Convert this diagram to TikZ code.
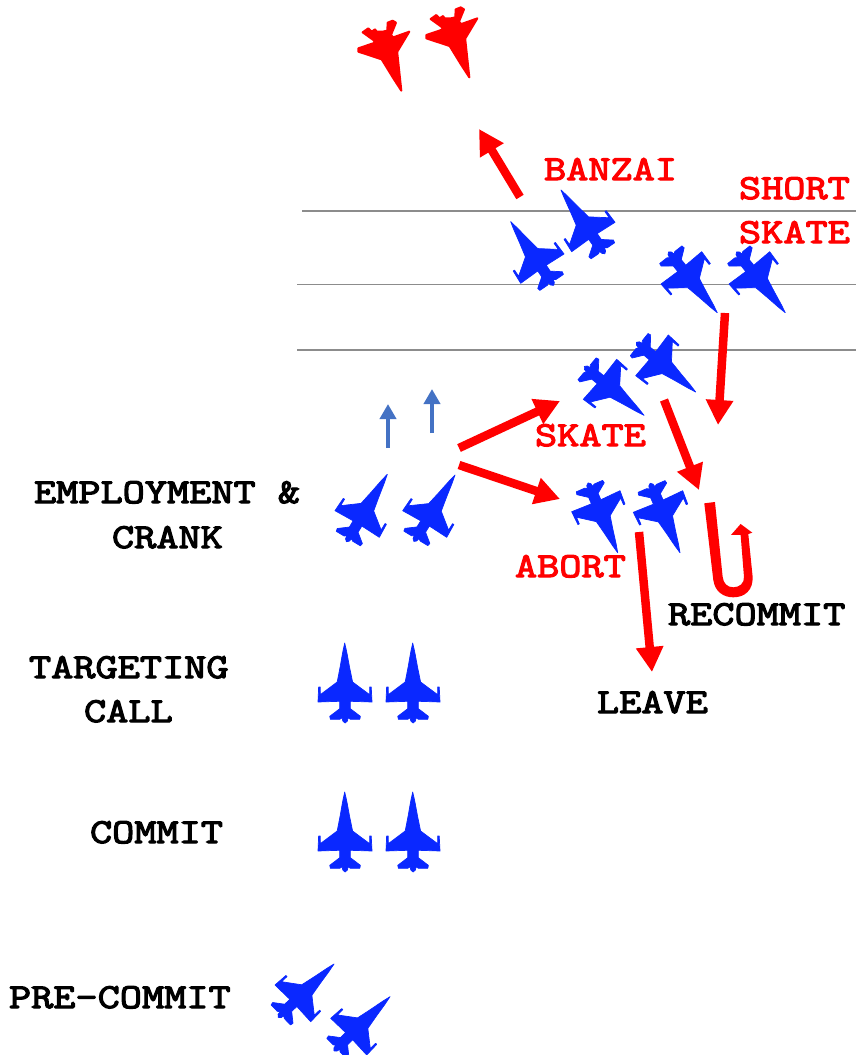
\documentclass[tikz,border=0pt]{standalone}
\usepackage{fontspec}
\newfontfamily\labfont[FakeBold=3.5,FakeStretch=1.23]{Latin Modern Mono}
\usetikzlibrary{arrows.meta}
\definecolor{jetblue}{HTML}{0A28FF}
\definecolor{steel}{HTML}{4472C4}
\definecolor{rulegray}{HTML}{8C8C8C}
\newcommand{\fjet}[6]{% nose, rear tip 1, rear tip 2 (px)
  \pgfmathsetmacro{\ux}{(#5-#3)/54}\pgfmathsetmacro{\uy}{(#6-#4)/54}%
  \pgfmathsetmacro{\vx}{((#3+#5)/2-#1)/59}\pgfmathsetmacro{\vy}{((#4+#6)/2-#2)/59}%
  \pgfmathsetmacro{\ox}{#1+40*\vx}\pgfmathsetmacro{\oy}{#2+40*\vy}%
  \filldraw[jetblue,line width=.7pt,line join=round,shift={(\ox,\oy)},x={(\ux pt,-\uy pt)},y={(\vx pt,-\vy pt)}]
  (0,-40) -- (2,-31) -- (4.7,-16) -- (7.7,-1) -- (24.7,11.7) -- (24.7,4) -- (26.3,4) -- (27,19) -- (5.3,18.3) -- (5.3,25.7) -- (15.3,33.3) -- (14.7,36.3) -- (5.3,36.3) -- (3,34.7) -- (2.3,38) -- (0,40)
  -- (-2.3,38) -- (-3,34.7) -- (-5.3,36.3) -- (-14.7,36.3) -- (-15.3,33.3) -- (-5.3,25.7) -- (-5.3,18.3) -- (-27,19) -- (-26.3,4) -- (-24.7,4) -- (-24.7,11.7) -- (-7.7,-1) -- (-4.7,-16) -- (-2,-31) -- cycle;}
\newcommand{\redjet}[2]{% shift in px
  \filldraw[red,line width=2pt,line join=round,shift={(#1,#2)},x=0.3333pt,y=-0.3333pt]
  (184,272) -- (172,160) -- (172,155) -- (208,95) -- (160,112) -- (153,105) -- (168,68) -- (158,62) -- (143,68) -- (142,92) -- (128,95) -- (110,95) -- (105,88) -- (95,95) -- (85,85) -- (68,97) -- (100,120) -- (105,128) -- (55,145) -- (55,155) -- (125,178) -- (160,235) -- cycle;}
\tikzset{
  lbl/.style={anchor=base west,inner sep=0pt,outer sep=0pt,font=\fontsize{35}{35}\selectfont\labfont},
  redlbl/.style={lbl,text=red},
  redarrow/.style={draw=red,line width=8.5pt,-{Triangle[width=26pt,length=25pt]}},
  bluearrow/.style={draw=steel,line width=4pt,-{Triangle[width=16pt,length=15pt]}},
  ruleline/.style={draw=rulegray,line width=1.2pt}
}
\begin{document}
\begin{tikzpicture}[x=1pt,y=-1pt]
\useasboundingbox (0,0) rectangle (856,1055);
% rules
\coordinate (r1a) at (302,211); \coordinate (r1b) at (856,211);
\coordinate (r2a) at (297,284.5); \coordinate (r2b) at (856,284.5);
\coordinate (r3a) at (297,350); \coordinate (r3b) at (856,350);
\draw[ruleline] (r1a) -- (r1b);
\draw[ruleline] (r2a) -- (r2b);
\draw[ruleline] (r3a) -- (r3b);
% red jets
\redjet{340}{0}
\redjet{408}{-13.3}
% blue jets
\fjet{510.7}{221.7}{520.7}{283.3}{564}{254}
\fjet{561}{190}{571.7}{251.7}{615}{222.3}
\fjet{717.3}{312.7}{661}{284}{701.7}{251.7}
\fjet{785.3}{312.7}{729}{284}{769.7}{251.7}
\fjet{644}{415.3}{583.3}{399.3}{616.7}{359.3}
\fjet{695.7}{392}{635.7}{375.7}{668.3}{335}
\fjet{617.7}{552.7}{571.7}{511.7}{620}{490.7}
\fjet{680}{552.7}{633.3}{512.3}{682.7}{490.7}
\fjet{387.3}{474.3}{335}{510.7}{379.3}{537.3}
\fjet{455}{475}{402.7}{510.7}{446.7}{537.3}
\fjet{344.7}{643}{318}{702}{372}{702}
\fjet{412.7}{643}{386}{702}{440}{702}
\fjet{344.7}{792}{318}{851}{372}{851}
\fjet{412.7}{792}{386}{851}{440}{851}
\fjet{334}{964}{275}{985}{310.7}{1021.7}
\fjet{390}{996.7}{330.7}{1018.3}{366.7}{1055}
% small arrows
\coordinate (b1a) at (388,448); \coordinate (b1b) at (388,404);
\coordinate (b2a) at (432,433); \coordinate (b2b) at (432,389);
\draw[bluearrow] (b1a) -- (b1b);
\draw[bluearrow] (b2a) -- (b2b);
% red arrows
\coordinate (a1a) at (520,197); \coordinate (a1b) at (479,129);
\coordinate (a2a) at (725,313); \coordinate (a2b) at (718,425);
\coordinate (a3a) at (664,400); \coordinate (a3b) at (699,490);
\coordinate (a4a) at (459,448); \coordinate (a4b) at (560,401);
\coordinate (a5a) at (459,465); \coordinate (a5b) at (560,499);
\coordinate (a6a) at (639,532); \coordinate (a6b) at (652,672);
\draw[redarrow] (a1a) -- (a1b);
\draw[redarrow] (a2a) -- (a2b);
\draw[redarrow] (a3a) -- (a3b);
\draw[redarrow] (a4a) -- (a4b);
\draw[redarrow] (a5a) -- (a5b);
\draw[redarrow] (a6a) -- (a6b);
% U-turn
\fill[red,shift={(320,380)},x=0.3333pt,y=-0.3333pt]
  (1153,370) -- (1180,600) .. controls (1185,635) and (1210,652) .. (1240,652)
  .. controls (1275,652) and (1300,630) .. (1298,590) -- (1285,462) -- (1297,458) -- (1262,432) -- (1233,465) -- (1262,465)
  -- (1272,590) .. controls (1274,610) and (1258,622) .. (1240,622)
  .. controls (1222,622) and (1210,610) .. (1208,590) -- (1185,366) -- cycle;
% labels
\node[redlbl] (banzai) at (544,180) {BANZAI};
\node[redlbl] (short) at (739,199) {SHORT};
\node[redlbl] (sskate) at (739,243) {SKATE};
\node[redlbl] (skate) at (535,446) {SKATE};
\node[redlbl] (abort) at (515,577) {ABORT};
\node[lbl] (emp) at (34,503) {EMPLOYMENT \&};
\node[lbl] (crank) at (112,548) {CRANK};
\node[lbl] (recommit) at (668,625) {RECOMMIT};
\node[lbl] (leave) at (597,713) {LEAVE};
\node[lbl] (targeting) at (29,678) {TARGETING};
\node[lbl] (call) at (84,722) {CALL};
\node[lbl] (commit) at (90,843) {COMMIT};
\node[lbl] (precommit) at (9,1008) {PRE-COMMIT};
\end{tikzpicture}
\end{document}
